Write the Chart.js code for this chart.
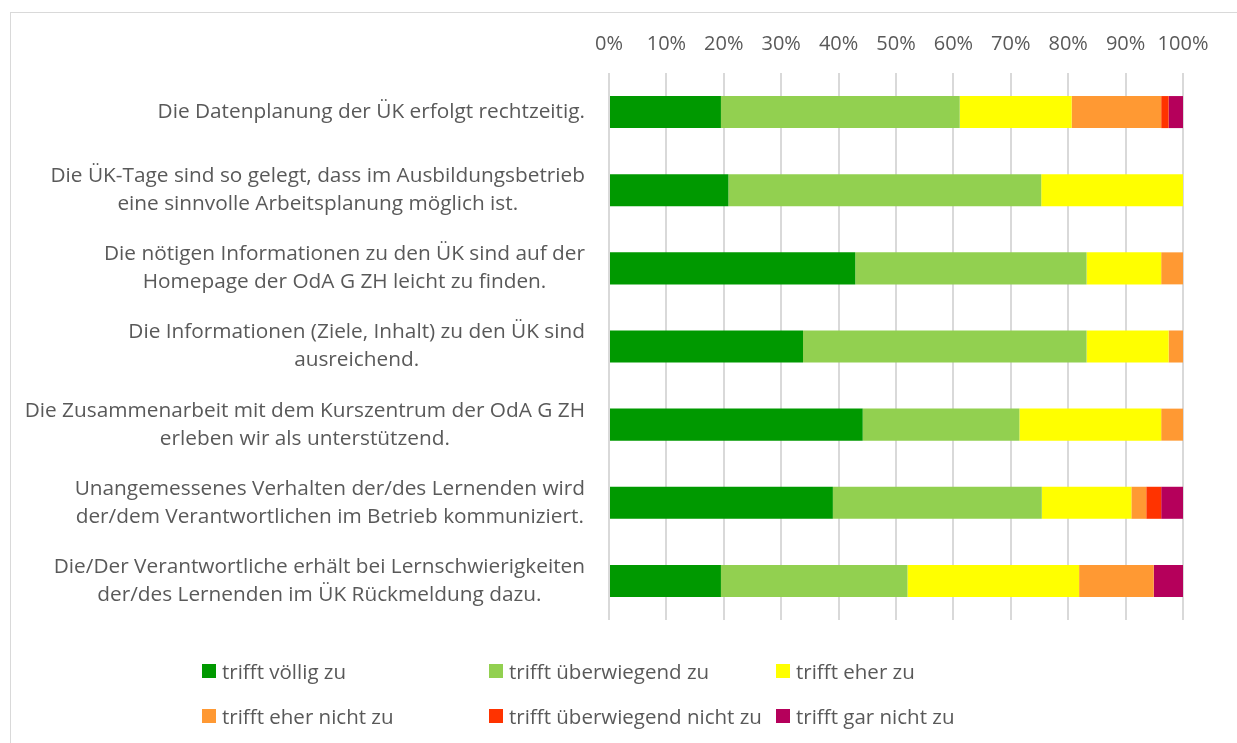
<!DOCTYPE html>
<html>
<head>
<meta charset="utf-8">
<script src="https://cdn.jsdelivr.net/npm/chart.js@4"></script>
<style>
  html, body { margin: 0; padding: 0; width: 1237px; height: 743px; overflow: hidden; background: #fff; }
  #frame { position: absolute; left: 10px; top: 12px; width: 1240px; height: 740px; border: 1px solid #d9d9d9; }
  #wrap { position: absolute; left: 0; top: 0; width: 1237px; height: 743px; }
  #legend { position: absolute; left: 202px; top: 657px; display: grid;
    grid-template-columns: 287px 287px auto; row-gap: 17px;
    font-family: "Open Sans", sans-serif; font-size: 20.5px; color: #595959; }
  #legend div { display: flex; align-items: center; white-space: nowrap; height: 28px; }
  #legend span.box { width: 14px; height: 14px; margin-right: 6px; display: inline-block; }
</style>
</head>
<body>
<div id="frame"></div>
<div id="wrap"><canvas id="chart" width="1237" height="743"></canvas></div>
<div id="legend"></div>
<script>
// categories
const questions = [
  ['Die Datenplanung der ÜK erfolgt rechtzeitig.'],
  ['Die ÜK-Tage sind so gelegt, dass im Ausbildungsbetrieb', 'eine sinnvolle Arbeitsplanung möglich ist.'],
  ['Die nötigen Informationen zu den ÜK sind auf der', 'Homepage der OdA G ZH leicht zu finden.'],
  ['Die Informationen (Ziele, Inhalt) zu den ÜK sind', 'ausreichend.'],
  ['Die Zusammenarbeit mit dem Kurszentrum der OdA G ZH', 'erleben wir als unterstützend.'],
  ['Unangemessenes Verhalten der/des Lernenden wird', 'der/dem Verantwortlichen im Betrieb kommuniziert.'],
  ['Die/Der Verantwortliche erhält bei Lernschwierigkeiten', 'der/des Lernenden im ÜK Rückmeldung dazu.']
];

const seriesNames = ['trifft völlig zu', 'trifft überwiegend zu', 'trifft eher zu',
  'trifft eher nicht zu', 'trifft überwiegend nicht zu', 'trifft gar nicht zu'];

// values in percent
const voellig      = [19.5, 20.8, 42.9, 33.8, 44.2, 39.0, 19.5];
const ueberwiegend = [41.6, 54.5, 40.3, 49.4, 27.3, 36.4, 32.5];
const eher         = [19.5, 24.7, 13.0, 14.3, 24.7, 15.6, 29.9];
const eherNicht    = [15.6, 0, 3.9, 2.6, 3.9, 2.6, 13.0];
const uebNicht     = [1.3, 0, 0, 0, 0, 2.6, 0];
const garNicht     = [2.6, 0, 0, 0, 0, 3.9, 5.2];

const xTicks = [0, 10, 20, 30, 40, 50, 60, 70, 80, 90, 100];

const colors = ['#009900', '#92d050', '#ffff00', '#ff9933', '#ff3300', '#b5005b'];
const values = [voellig, ueberwiegend, eher, eherNicht, uebNicht, garNicht];

const FONT = '"Open Sans", sans-serif';
const TEXT = '#595959';

// y labels: each block right aligned to the axis, lines centred in the block
const questionLabels = {
  id: 'questionLabels',
  afterDraw(chart) {
    const ctx = chart.ctx;
    const yScale = chart.scales.y;
    const right = chart.chartArea.left - 24;
    const lineH = 28;
    ctx.save();
    ctx.font = '20.8px ' + FONT;
    ctx.fillStyle = TEXT;
    ctx.textAlign = 'center';
    ctx.textBaseline = 'middle';
    questions.forEach((lines, i) => {
      const w = Math.max(...lines.map(l => ctx.measureText(l).width));
      const cx = right - w / 2;
      const cy = yScale.getPixelForValue(i);
      lines.forEach((l, j) => {
        ctx.fillText(l, cx, cy + (j - (lines.length - 1) / 2) * lineH);
      });
    });
    ctx.restore();
  }
};

const data = {
  labels: questions.map(q => q.join(' ')),
  datasets: seriesNames.map((name, k) => ({
    label: name,
    data: values[k],
    backgroundColor: colors[k],
    barPercentage: 0.41,
    categoryPercentage: 1
  }))
};

const config = {
  type: 'bar',
  data: data,
  options: {
    indexAxis: 'y',
    responsive: false,
    animation: false,
    layout: { padding: { left: 609, right: 54, top: 15, bottom: 123 } },
    scales: {
      x: {
        position: 'top',
        stacked: true,
        min: 0,
        max: 100,
        afterBuildTicks: axis => { axis.ticks = xTicks.map(v => ({ value: v })); },
        ticks: {
          callback: v => v + '%',
          color: TEXT,
          font: { family: FONT, size: 20 },
          padding: 17,
          maxRotation: 0
        },
        grid: { color: '#d9d9d9', lineWidth: 2, drawTicks: false },
        border: { display: false }
      },
      y: {
        stacked: true,
        display: false
      }
    },
    plugins: {
      legend: { display: false },
      tooltip: { enabled: false }
    }
  },
  plugins: [questionLabels]
};

new Chart(document.getElementById('chart').getContext('2d'), config);

// legend, three columns
const legendDiv = document.getElementById('legend');
seriesNames.forEach((name, k) => {
  const item = document.createElement('div');
  item.innerHTML = '<span class="box" style="background:' + colors[k] + '"></span>' + name;
  legendDiv.appendChild(item);
});
</script>
</body>
</html>
